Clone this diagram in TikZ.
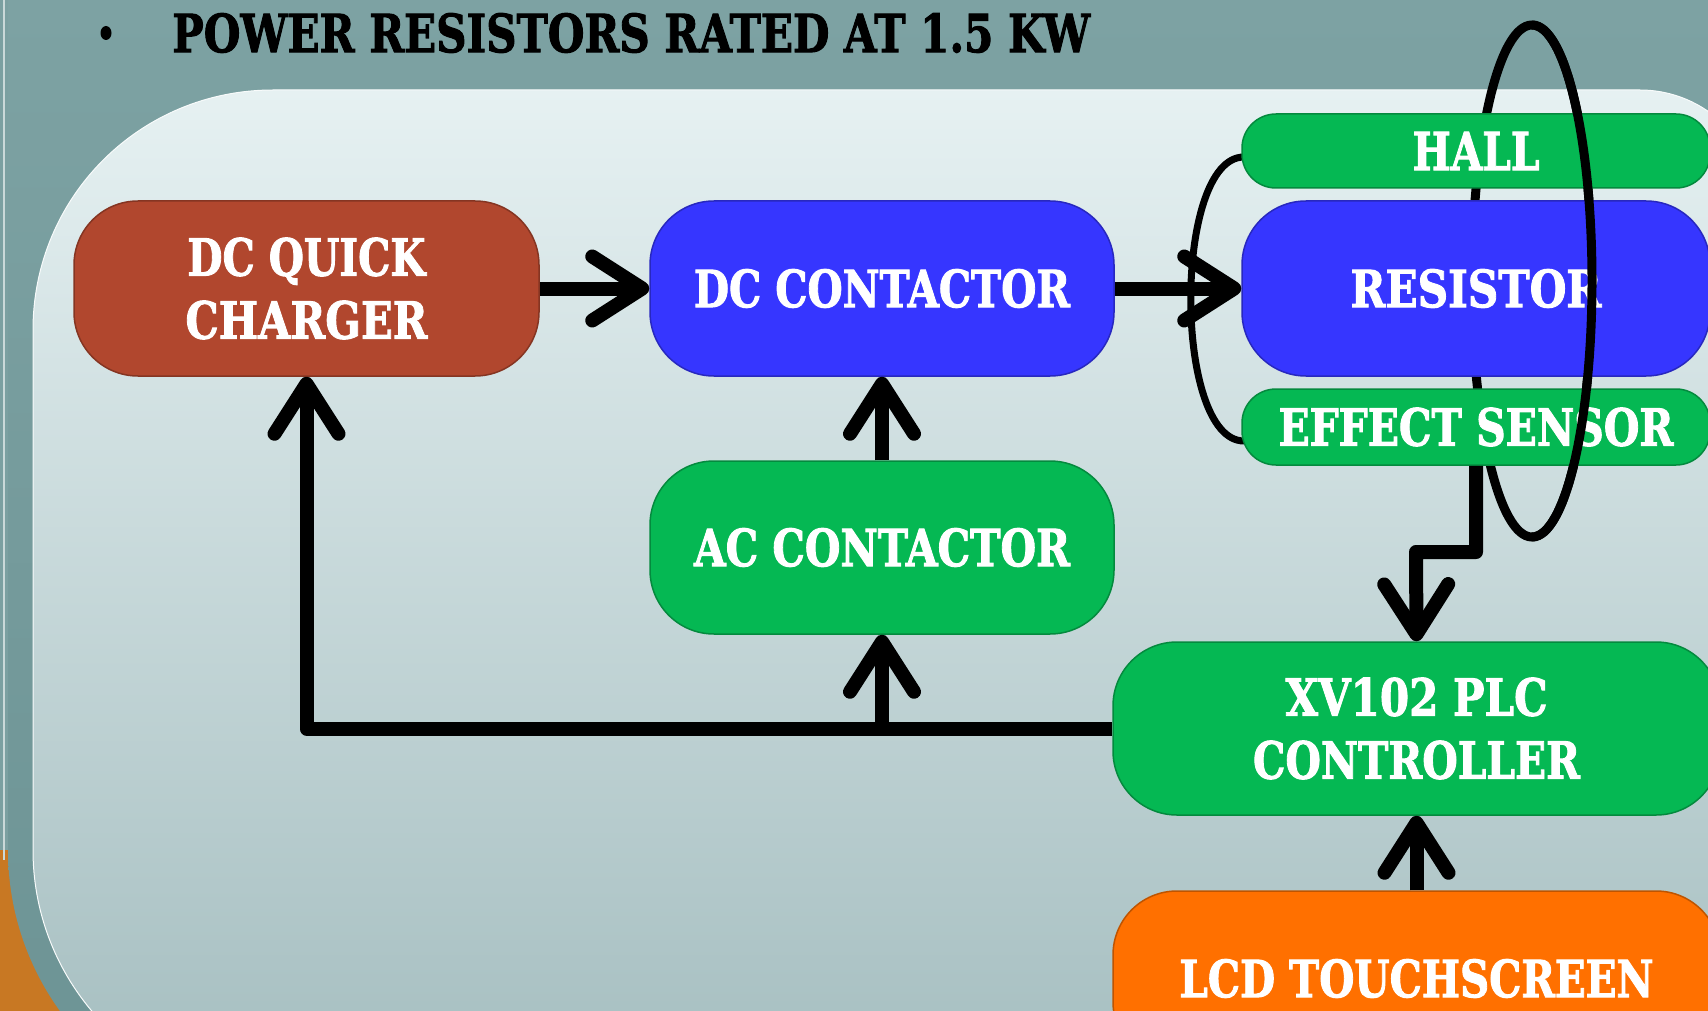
\documentclass[tikz,border=0pt]{standalone}
\usepackage{fontspec}
\setmainfont{DejaVu Serif}
\newfontfamily\heavyfont{DejaVu Serif Bold}[FakeBold=2]
\usepackage{graphicx}
\usetikzlibrary{arrows.meta,shapes.geometric}
\definecolor{bgteal}{HTML}{7BA0A1}
\definecolor{bandtop}{HTML}{7DA2A3}
\definecolor{bandbot}{HTML}{6C9394}
\definecolor{cardtop}{HTML}{E6F1F2}
\definecolor{cardbot}{HTML}{A4BDBF}
\definecolor{cornerorange}{HTML}{C87823}
\definecolor{brownc}{HTML}{B1472E}
\definecolor{bluec}{HTML}{3636FF}
\definecolor{greenc}{HTML}{05B853}
\definecolor{orangec}{HTML}{FF7000}
\newcommand{\boxtxt}[3]{\resizebox{#1pt}{#2pt}{\heavyfont #3}}
\tikzset{
  blk/.style={rectangle, inner sep=0pt, rounded corners=64pt, draw=#1!75!black,
    line width=1.5pt, fill=#1, text=white, align=center,
    font=\fontsize{20pt}{63pt}\selectfont},
  thinblk/.style={blk=#1, rounded corners=34pt},
  arr/.style={line width=14pt, line join=round,
    -{Straight Barb[length=50pt,width=64pt,round]}},
  ring/.style={line width=9pt, draw=black},
  wire/.style={line width=7pt, draw=black}
}
\begin{document}
\begin{tikzpicture}[x=1pt,y=-1pt]
\useasboundingbox (0,0) rectangle (1708,1011);
\clip (0,0) rectangle (1708,1011);
% background
\fill[bgteal] (0,0) rectangle (1708,1011);
\fill[cornerorange] (0,850) rectangle (120,1011);
\shade[top color=bandtop, bottom color=bandbot]
  (8,0) -- (8,850) .. controls (8,1002) and (131,1125) .. (283,1125)
  -- (1708,1125) -- (1708,0) -- cycle;
\draw[color=white!60!bgteal, line width=2pt] (4,0) -- (4,860);
\shade[top color=cardtop, bottom color=cardbot, draw=white!70!cardtop, line width=1pt]
  (33,330) .. controls (33,197) and (140,90) .. (273,90)
  -- (1640,90) .. controls (1706,90) and (1760,144) .. (1760,210)
  -- (1760,1100) -- (283,1100)
  .. controls (145,1100) and (33,988) .. (33,850) -- cycle;

% ring (back part)
\coordinate (ringc) at (1532,281);
\coordinate (ringbot) at (1532,537);
\draw[ring] (ringc) ellipse[x radius=60, y radius=256];

% wire loop from Hall to Effect sensor
\coordinate (wa) at (1244,157);
\coordinate (wb) at (1244,441);
\draw[wire] (wa) .. controls (1173,157) and (1173,441) .. (wb);

% boxes
\node[blk=brownc, minimum width=465pt, minimum height=175pt] (dcqc) at (306.5,288.5)
  {\boxtxt{238}{38}{DC QUICK}\\\boxtxt{242}{38}{CHARGER}};
\node[blk=bluec, minimum width=464pt, minimum height=175pt] (dcc) at (882,288.5)
  {\boxtxt{376}{38}{DC CONTACTOR}};
\node[blk=greenc, minimum width=464pt, minimum height=173pt] (acc) at (882,547.5)
  {\boxtxt{376}{38}{AC CONTACTOR}};
\node[thinblk=greenc, minimum width=468pt, minimum height=74pt] (hall) at (1476,151)
  {\boxtxt{127}{38}{HALL}};
\node[blk=bluec, minimum width=468pt, minimum height=175pt] (res) at (1476,288.5)
  {\boxtxt{251}{38}{RESISTOR}};
\node[thinblk=greenc, minimum width=468pt, minimum height=76pt] (eff) at (1476,427)
  {\boxtxt{395}{38}{EFFECT SENSOR}};
\node[blk=greenc, minimum width=607pt, minimum height=173pt] (plc) at (1416.5,728.5)
  {\boxtxt{262}{38}{XV102 PLC}\\\boxtxt{327}{38}{CONTROLLER}};
\node[blk=orangec, minimum width=607pt, minimum height=175pt] (lcd) at (1416.5,978.5)
  {\boxtxt{474}{38}{LCD TOUCHSCREEN}};

% connectors
\coordinate (bend) at (1416,552);
\draw[arr] (dcqc.east) -- (dcc.west);
\draw[arr] (dcc.east) -- (res.west);
\draw[arr] (acc.north) -- (dcc.south);
\draw[arr] (plc.west) -| (dcqc.south);
\draw[arr] (plc.west -| acc.south) -- (acc.south);
\draw[arr] (eff.south) |- (bend) -- (plc.north);
\draw[arr] (lcd.north) -- (plc.south);

% ring (front part)
\draw[ring] (ringbot) arc[start angle=90, end angle=-90, x radius=60, y radius=256];

% title
\node[ellipse, fill=black, inner sep=0pt, minimum width=11pt, minimum height=14pt] (bullet) at (106,33) {};
\node[anchor=west, inner sep=0pt, text=black] (title) at (172,33)
  {\boxtxt{918}{39}{POWER RESISTORS RATED AT 1.5 KW}};
\end{tikzpicture}
\end{document}
